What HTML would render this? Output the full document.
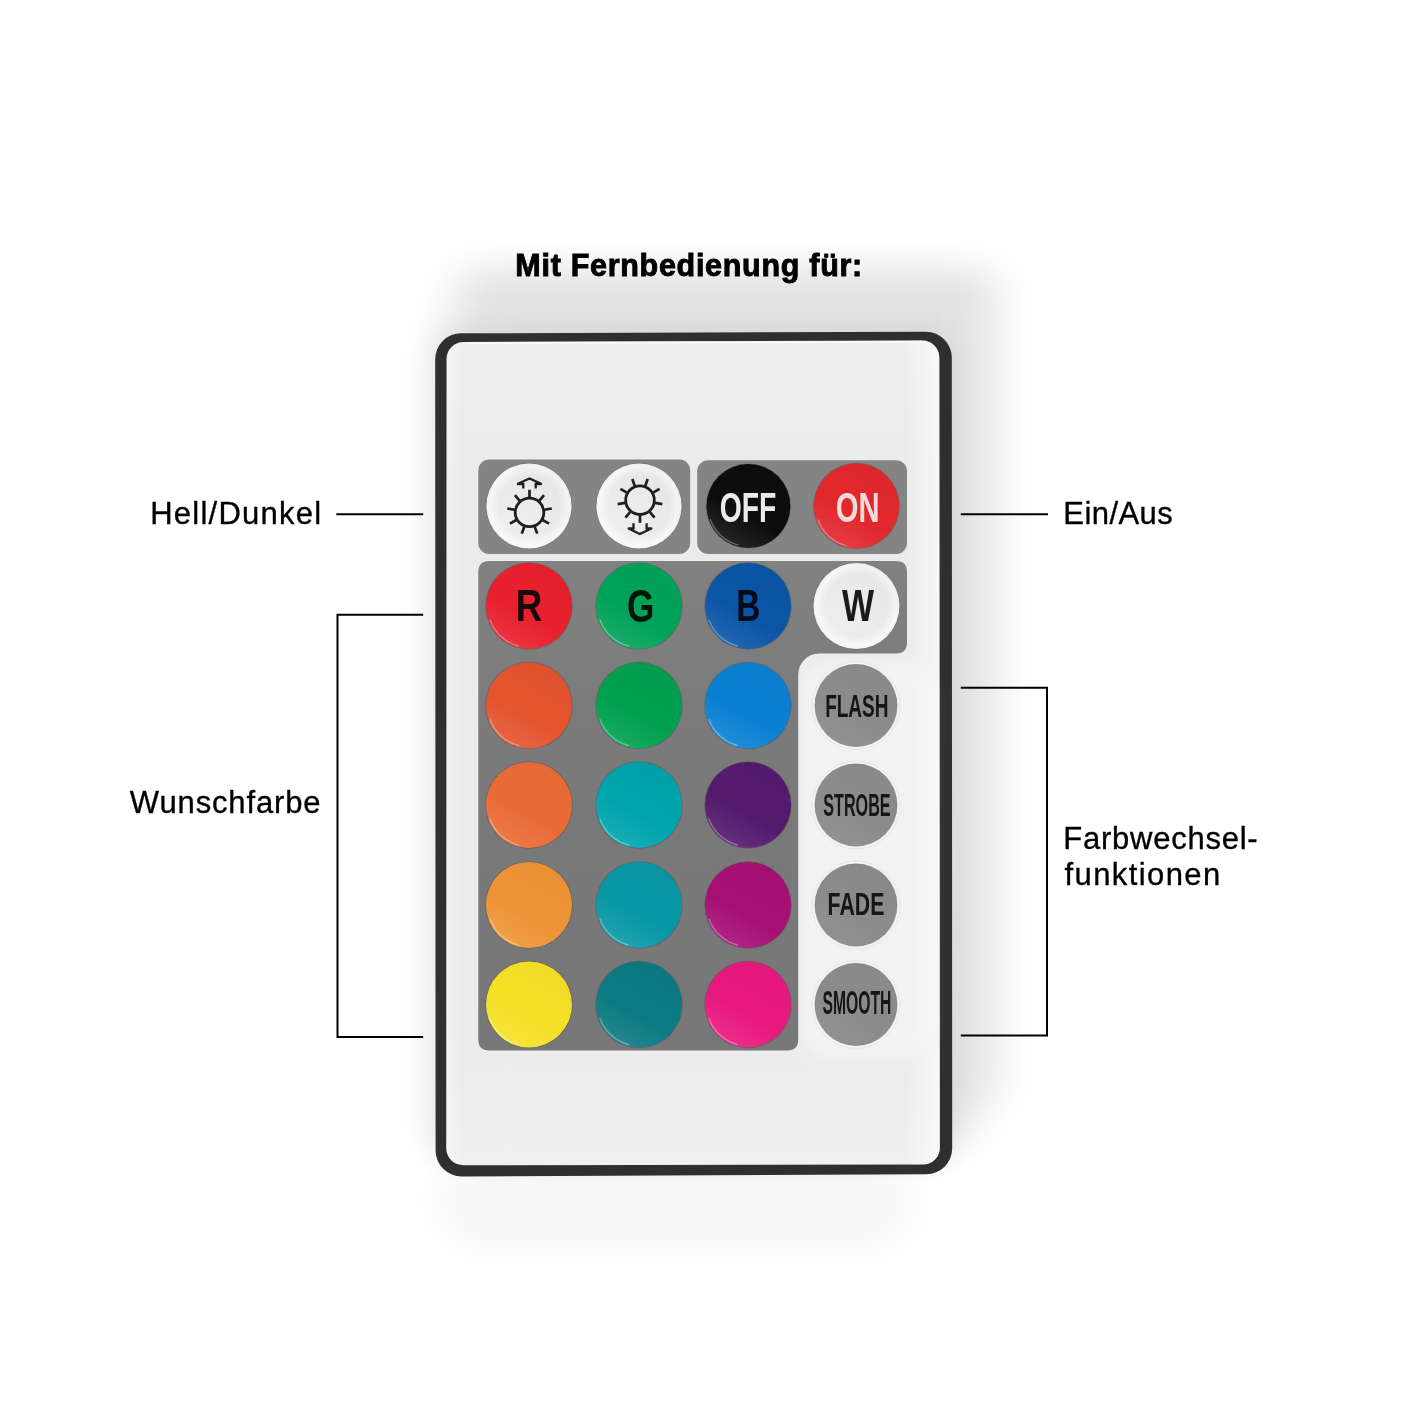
<!DOCTYPE html>
<html><head><meta charset="utf-8"><title>Fernbedienung</title>
<style>
html,body{margin:0;padding:0;background:#fff;}
body{width:1417px;height:1417px;overflow:hidden;font-family:"Liberation Sans",sans-serif;}
svg{display:block}
text{font-family:"Liberation Sans",sans-serif;}
</style></head><body>
<svg width="1417" height="1417" viewBox="0 0 1417 1417">
<defs>
<filter id="b30" x="-30%" y="-30%" width="160%" height="160%"><feGaussianBlur stdDeviation="24 18"/></filter>
<filter id="b18" x="-30%" y="-30%" width="160%" height="160%"><feGaussianBlur stdDeviation="13"/></filter>
<filter id="b8" x="-30%" y="-30%" width="160%" height="160%"><feGaussianBlur stdDeviation="7"/></filter>
<filter id="b1"><feGaussianBlur stdDeviation="0.7"/></filter>
<linearGradient id="face" x1="0" y1="0" x2="0" y2="1">
 <stop offset="0" stop-color="#efefef"/><stop offset="0.15" stop-color="#ebebeb"/><stop offset="0.85" stop-color="#ebebeb"/><stop offset="1" stop-color="#f0f0f0"/>
</linearGradient>
<linearGradient id="gloss" x1="0.75" y1="0.05" x2="0.25" y2="0.95">
 <stop offset="0" stop-color="#000" stop-opacity="0.025"/><stop offset="0.45" stop-color="#000" stop-opacity="0"/><stop offset="0.6" stop-color="#fff" stop-opacity="0"/><stop offset="1" stop-color="#fff" stop-opacity="0.10"/>
</linearGradient>
<linearGradient id="glossw" x1="0.8" y1="0.1" x2="0.2" y2="0.9">
 <stop offset="0" stop-color="#000" stop-opacity="0.06"/><stop offset="0.5" stop-color="#000" stop-opacity="0"/><stop offset="0.5" stop-color="#fff" stop-opacity="0"/><stop offset="1" stop-color="#fff" stop-opacity="0.6"/>
</linearGradient>
<radialGradient id="whitebtn" cx="0.5" cy="0.5" r="0.5">
 <stop offset="0" stop-color="#ececec"/><stop offset="0.72" stop-color="#eaeaea"/><stop offset="0.93" stop-color="#f7f7f7"/><stop offset="1" stop-color="#f0f0f0"/>
</radialGradient>
<linearGradient id="edgeR" x1="0" y1="0" x2="1" y2="0">
 <stop offset="0" stop-color="#fff" stop-opacity="0"/><stop offset="1" stop-color="#fff" stop-opacity="0.6"/>
</linearGradient>
<linearGradient id="edgeL" x1="1" y1="0" x2="0" y2="0">
 <stop offset="0" stop-color="#fff" stop-opacity="0"/><stop offset="1" stop-color="#fff" stop-opacity="0.35"/>
</linearGradient>
<clipPath id="faceclip"><path d="M464,342 L922,340.6 A17,17 0 0 1 939.3,358 L939.8,1147 A17,17 0 0 1 922,1164.6 L464,1165.2 A17,17 0 0 1 446.3,1148 L446.6,359.5 A17,17 0 0 1 464,342 Z"/></clipPath>
<linearGradient id="pgrad" gradientUnits="userSpaceOnUse" x1="0" y1="561" x2="0" y2="1050">
 <stop offset="0" stop-color="#818181"/><stop offset="0.35" stop-color="#7a7a7a"/><stop offset="1" stop-color="#777777"/>
</linearGradient>
<linearGradient id="rshadow" x1="0" y1="0" x2="1" y2="0">
 <stop offset="0" stop-color="#d6d6d6"/><stop offset="0.35" stop-color="#e6e6e6"/><stop offset="0.7" stop-color="#f6f6f6"/><stop offset="1" stop-color="#ffffff"/>
</linearGradient>
</defs>
<rect width="1417" height="1417" fill="#ffffff"/>

<g>
<path d="M440,350 L466,268 H970 Q996,268 996,294 V1085 L950,1150 H440 Z" fill="#000" opacity="0.112" filter="url(#b30)"/>
<rect x="428" y="326" width="532" height="840" rx="30" fill="#000" opacity="0.035" filter="url(#b18)"/>
<rect x="440" y="1150" width="470" height="100" rx="40" fill="#000" opacity="0.03" filter="url(#b30)"/>
</g>
<path d="M461,333.3 L926,331.8 A26,26 0 0 1 951.8,358 L952.2,1148 A26,26 0 0 1 926,1174.3 L462,1176.4 A26,26 0 0 1 435.6,1150 L435.2,359.5 A26,26 0 0 1 461,333.3 Z" fill="#2f2f2f"/>
<path d="M464,342 L922,340.6 A17,17 0 0 1 939.3,358 L939.8,1147 A17,17 0 0 1 922,1164.6 L464,1165.2 A17,17 0 0 1 446.3,1148 L446.6,359.5 A17,17 0 0 1 464,342 Z" fill="url(#face)"/>
<g clip-path="url(#faceclip)"><rect x="905" y="340" width="35" height="826" fill="url(#edgeR)"/><rect x="446" y="340" width="16" height="826" fill="url(#edgeL)"/></g>
<path d="M466,343.2 L921,341.8" stroke="#fbfbfb" stroke-width="2" opacity="0.8" fill="none"/>
<rect x="800" y="660" width="132" height="400" rx="30" fill="#fff" opacity="0.35" filter="url(#b8)"/>
<rect x="478.3" y="459.6" width="211.9" height="94.4" rx="11" fill="#848484"/>
<rect x="697.2" y="460.2" width="209.8" height="93.8" rx="11" fill="#848484"/>
<path d="M489.3,561 H896 Q907,561 907,572 V642.5 Q907,653.5 896,653.5 H819.2 A21,21 0 0 0 798.2,674.5 V1039.6 Q798.2,1050.6 787.2,1050.6 H489.3 Q478.3,1050.6 478.3,1039.6 V572 Q478.3,561 489.3,561 Z" fill="url(#pgrad)"/>
<circle cx="529" cy="506" r="43.2" fill="#6a6a6a" opacity="0.55"/>
<circle cx="529" cy="506" r="42.6" fill="url(#whitebtn)"/>
<circle cx="529" cy="506" r="42.6" fill="url(#glossw)" opacity="0.35"/>
<circle cx="639" cy="506" r="43.2" fill="#6a6a6a" opacity="0.55"/>
<circle cx="639" cy="506" r="42.6" fill="url(#whitebtn)"/>
<circle cx="639" cy="506" r="42.6" fill="url(#glossw)" opacity="0.35"/>
<circle cx="748.4" cy="506" r="42.6" fill="#4a4a4a" opacity="0.45"/>
<circle cx="748.4" cy="506" r="41.9" fill="#0d0d0d"/>
<circle cx="748.4" cy="506" r="41.9" fill="url(#gloss)"/>
<path d="M738.0,544.9 A40.3,40.3 0 0 1 710.5,519.8" fill="none" stroke="#fff" stroke-width="1.4" stroke-linecap="round" opacity="0.32" filter="url(#b1)"/>
<circle cx="856.5" cy="506" r="43.300000000000004" fill="#4a4a4a" opacity="0.45"/>
<circle cx="856.5" cy="506" r="42.6" fill="#e1282d"/>
<circle cx="856.5" cy="506" r="42.6" fill="url(#gloss)"/>
<path d="M845.9,545.6 A41.0,41.0 0 0 1 818.0,520.0" fill="none" stroke="#fff" stroke-width="1.4" stroke-linecap="round" opacity="0.32" filter="url(#b1)"/>
<circle cx="529" cy="606" r="43.7" fill="#4a4a4a" opacity="0.45"/>
<circle cx="529" cy="606" r="43" fill="#e8202d"/>
<circle cx="529" cy="606" r="43" fill="url(#gloss)"/>
<path d="M518.3,646.0 A41.4,41.4 0 0 1 490.1,620.2" fill="none" stroke="#fff" stroke-width="1.4" stroke-linecap="round" opacity="0.32" filter="url(#b1)"/>
<circle cx="639" cy="606" r="43.7" fill="#4a4a4a" opacity="0.45"/>
<circle cx="639" cy="606" r="43" fill="#00a258"/>
<circle cx="639" cy="606" r="43" fill="url(#gloss)"/>
<path d="M628.3,646.0 A41.4,41.4 0 0 1 600.1,620.2" fill="none" stroke="#fff" stroke-width="1.4" stroke-linecap="round" opacity="0.32" filter="url(#b1)"/>
<circle cx="748" cy="606" r="43.7" fill="#4a4a4a" opacity="0.45"/>
<circle cx="748" cy="606" r="43" fill="#0b55a6"/>
<circle cx="748" cy="606" r="43" fill="url(#gloss)"/>
<path d="M737.3,646.0 A41.4,41.4 0 0 1 709.1,620.2" fill="none" stroke="#fff" stroke-width="1.4" stroke-linecap="round" opacity="0.32" filter="url(#b1)"/>
<circle cx="856.5" cy="606" r="43.6" fill="#6a6a6a" opacity="0.55"/>
<circle cx="856.5" cy="606" r="43" fill="url(#whitebtn)"/>
<circle cx="856.5" cy="606" r="43" fill="url(#glossw)" opacity="0.35"/>
<circle cx="529" cy="705.5" r="43.7" fill="#4a4a4a" opacity="0.45"/>
<circle cx="529" cy="705.5" r="43" fill="#e4542f"/>
<circle cx="529" cy="705.5" r="43" fill="url(#gloss)"/>
<path d="M518.3,745.5 A41.4,41.4 0 0 1 490.1,719.7" fill="none" stroke="#fff" stroke-width="1.4" stroke-linecap="round" opacity="0.32" filter="url(#b1)"/>
<circle cx="639" cy="705.5" r="43.7" fill="#4a4a4a" opacity="0.45"/>
<circle cx="639" cy="705.5" r="43" fill="#00a04f"/>
<circle cx="639" cy="705.5" r="43" fill="url(#gloss)"/>
<path d="M628.3,745.5 A41.4,41.4 0 0 1 600.1,719.7" fill="none" stroke="#fff" stroke-width="1.4" stroke-linecap="round" opacity="0.32" filter="url(#b1)"/>
<circle cx="748" cy="705.5" r="43.7" fill="#4a4a4a" opacity="0.45"/>
<circle cx="748" cy="705.5" r="43" fill="#0a80d2"/>
<circle cx="748" cy="705.5" r="43" fill="url(#gloss)"/>
<path d="M737.3,745.5 A41.4,41.4 0 0 1 709.1,719.7" fill="none" stroke="#fff" stroke-width="1.4" stroke-linecap="round" opacity="0.32" filter="url(#b1)"/>
<circle cx="529" cy="805" r="43.7" fill="#4a4a4a" opacity="0.45"/>
<circle cx="529" cy="805" r="43" fill="#e86b36"/>
<circle cx="529" cy="805" r="43" fill="url(#gloss)"/>
<path d="M518.3,845.0 A41.4,41.4 0 0 1 490.1,819.2" fill="none" stroke="#fff" stroke-width="1.4" stroke-linecap="round" opacity="0.32" filter="url(#b1)"/>
<circle cx="639" cy="805" r="43.7" fill="#4a4a4a" opacity="0.45"/>
<circle cx="639" cy="805" r="43" fill="#00a4ad"/>
<circle cx="639" cy="805" r="43" fill="url(#gloss)"/>
<path d="M628.3,845.0 A41.4,41.4 0 0 1 600.1,819.2" fill="none" stroke="#fff" stroke-width="1.4" stroke-linecap="round" opacity="0.32" filter="url(#b1)"/>
<circle cx="748" cy="805" r="43.7" fill="#4a4a4a" opacity="0.45"/>
<circle cx="748" cy="805" r="43" fill="#541a6e"/>
<circle cx="748" cy="805" r="43" fill="url(#gloss)"/>
<path d="M737.3,845.0 A41.4,41.4 0 0 1 709.1,819.2" fill="none" stroke="#fff" stroke-width="1.4" stroke-linecap="round" opacity="0.32" filter="url(#b1)"/>
<circle cx="529" cy="905" r="43.7" fill="#4a4a4a" opacity="0.45"/>
<circle cx="529" cy="905" r="43" fill="#ee9436"/>
<circle cx="529" cy="905" r="43" fill="url(#gloss)"/>
<path d="M518.3,945.0 A41.4,41.4 0 0 1 490.1,919.2" fill="none" stroke="#fff" stroke-width="1.4" stroke-linecap="round" opacity="0.32" filter="url(#b1)"/>
<circle cx="639" cy="905" r="43.7" fill="#4a4a4a" opacity="0.45"/>
<circle cx="639" cy="905" r="43" fill="#0898a5"/>
<circle cx="639" cy="905" r="43" fill="url(#gloss)"/>
<path d="M628.3,945.0 A41.4,41.4 0 0 1 600.1,919.2" fill="none" stroke="#fff" stroke-width="1.4" stroke-linecap="round" opacity="0.32" filter="url(#b1)"/>
<circle cx="748" cy="905" r="43.7" fill="#4a4a4a" opacity="0.45"/>
<circle cx="748" cy="905" r="43" fill="#a60f75"/>
<circle cx="748" cy="905" r="43" fill="url(#gloss)"/>
<path d="M737.3,945.0 A41.4,41.4 0 0 1 709.1,919.2" fill="none" stroke="#fff" stroke-width="1.4" stroke-linecap="round" opacity="0.32" filter="url(#b1)"/>
<circle cx="529" cy="1004.5" r="43.7" fill="#4a4a4a" opacity="0.45"/>
<circle cx="529" cy="1004.5" r="43" fill="#f5e026"/>
<circle cx="529" cy="1004.5" r="43" fill="url(#gloss)"/>
<path d="M518.3,1044.5 A41.4,41.4 0 0 1 490.1,1018.7" fill="none" stroke="#fff" stroke-width="1.4" stroke-linecap="round" opacity="0.32" filter="url(#b1)"/>
<circle cx="639" cy="1004.5" r="43.7" fill="#4a4a4a" opacity="0.45"/>
<circle cx="639" cy="1004.5" r="43" fill="#0b7a82"/>
<circle cx="639" cy="1004.5" r="43" fill="url(#gloss)"/>
<path d="M628.3,1044.5 A41.4,41.4 0 0 1 600.1,1018.7" fill="none" stroke="#fff" stroke-width="1.4" stroke-linecap="round" opacity="0.32" filter="url(#b1)"/>
<circle cx="748" cy="1004.5" r="43.7" fill="#4a4a4a" opacity="0.45"/>
<circle cx="748" cy="1004.5" r="43" fill="#e8187f"/>
<circle cx="748" cy="1004.5" r="43" fill="url(#gloss)"/>
<path d="M737.3,1044.5 A41.4,41.4 0 0 1 709.1,1018.7" fill="none" stroke="#fff" stroke-width="1.4" stroke-linecap="round" opacity="0.32" filter="url(#b1)"/>
<circle cx="856" cy="705.5" r="44.0" fill="#f3f3f3"/>
<circle cx="856" cy="705.5" r="44.0" fill="none" stroke="#e0e0e0" stroke-width="0.7"/>
<circle cx="856" cy="705.5" r="41.4" fill="#8b8b8b"/>
<circle cx="856" cy="705.5" r="41.4" fill="url(#gloss)" opacity="0.6"/>
<circle cx="856" cy="805" r="44.0" fill="#f3f3f3"/>
<circle cx="856" cy="805" r="44.0" fill="none" stroke="#e0e0e0" stroke-width="0.7"/>
<circle cx="856" cy="805" r="41.4" fill="#8b8b8b"/>
<circle cx="856" cy="805" r="41.4" fill="url(#gloss)" opacity="0.6"/>
<circle cx="856" cy="905" r="44.0" fill="#f3f3f3"/>
<circle cx="856" cy="905" r="44.0" fill="none" stroke="#e0e0e0" stroke-width="0.7"/>
<circle cx="856" cy="905" r="41.4" fill="#8b8b8b"/>
<circle cx="856" cy="905" r="41.4" fill="url(#gloss)" opacity="0.6"/>
<circle cx="856" cy="1004.5" r="44.0" fill="#f3f3f3"/>
<circle cx="856" cy="1004.5" r="44.0" fill="none" stroke="#e0e0e0" stroke-width="0.7"/>
<circle cx="856" cy="1004.5" r="41.4" fill="#8b8b8b"/>
<circle cx="856" cy="1004.5" r="41.4" fill="url(#gloss)" opacity="0.6"/>
<circle cx="529.5" cy="512.4" r="14.3" fill="none" stroke="#1e1e1e" stroke-width="2.8"/>
<line x1="529.50" y1="497.20" x2="529.50" y2="489.80" stroke="#1e1e1e" stroke-width="2.7"/>
<line x1="539.27" y1="500.76" x2="544.03" y2="495.09" stroke="#1e1e1e" stroke-width="2.7"/>
<line x1="544.47" y1="509.76" x2="551.76" y2="508.48" stroke="#1e1e1e" stroke-width="2.7"/>
<line x1="542.66" y1="520.00" x2="549.07" y2="523.70" stroke="#1e1e1e" stroke-width="2.7"/>
<line x1="534.70" y1="526.68" x2="537.23" y2="533.64" stroke="#1e1e1e" stroke-width="2.7"/>
<line x1="524.30" y1="526.68" x2="521.77" y2="533.64" stroke="#1e1e1e" stroke-width="2.7"/>
<line x1="516.34" y1="520.00" x2="509.93" y2="523.70" stroke="#1e1e1e" stroke-width="2.7"/>
<line x1="514.53" y1="509.76" x2="507.24" y2="508.48" stroke="#1e1e1e" stroke-width="2.7"/>
<line x1="519.73" y1="500.76" x2="514.97" y2="495.09" stroke="#1e1e1e" stroke-width="2.7"/>
<circle cx="640" cy="500.2" r="14.3" fill="none" stroke="#1e1e1e" stroke-width="2.8"/>
<line x1="640.00" y1="515.40" x2="640.00" y2="522.80" stroke="#1e1e1e" stroke-width="2.7"/>
<line x1="649.77" y1="511.84" x2="654.53" y2="517.51" stroke="#1e1e1e" stroke-width="2.7"/>
<line x1="654.97" y1="502.84" x2="662.26" y2="504.12" stroke="#1e1e1e" stroke-width="2.7"/>
<line x1="653.16" y1="492.60" x2="659.57" y2="488.90" stroke="#1e1e1e" stroke-width="2.7"/>
<line x1="645.20" y1="485.92" x2="647.73" y2="478.96" stroke="#1e1e1e" stroke-width="2.7"/>
<line x1="634.80" y1="485.92" x2="632.27" y2="478.96" stroke="#1e1e1e" stroke-width="2.7"/>
<line x1="626.84" y1="492.60" x2="620.43" y2="488.90" stroke="#1e1e1e" stroke-width="2.7"/>
<line x1="625.03" y1="502.84" x2="617.74" y2="504.12" stroke="#1e1e1e" stroke-width="2.7"/>
<line x1="630.23" y1="511.84" x2="625.47" y2="517.51" stroke="#1e1e1e" stroke-width="2.7"/>
<path d="M523.3,488.6 V484 H517.2 L529.6,478.4 L541.7,484 H535.7 V488.6" fill="none" stroke="#1e1e1e" stroke-width="2.3" stroke-linejoin="miter"/>
<path d="M633.5,523.3 V528.3 H628 L639.8,534 L652,528.3 H646.6 V523.3" fill="none" stroke="#1e1e1e" stroke-width="2.3" stroke-linejoin="miter"/>
<g opacity="0.999">
<text transform="translate(719.74,521.5) scale(0.6601,1)" font-size="42.88" font-weight="bold" fill="#ececec">OFF</text>
<text transform="translate(835.80,522) scale(0.6922,1)" font-size="42.15" font-weight="bold" fill="#f3dcdc">ON</text>
<text transform="translate(515.74,621.4) scale(0.8253,1)" font-size="44.48" font-weight="bold" fill="#1a0a0a">R</text>
<text transform="translate(627.05,621.9) scale(0.7679,1)" font-size="45.93" font-weight="bold" fill="#06140c">G</text>
<text transform="translate(736.37,621.4) scale(0.7484,1)" font-size="44.48" font-weight="bold" fill="#060c18">B</text>
<text transform="translate(841.97,621.4) scale(0.7639,1)" font-size="44.48" font-weight="bold" fill="#1a1a1a">W</text>
<text transform="translate(825.13,716.7) scale(0.5954,1)" font-size="31.98" font-weight="bold" fill="#161616">FLASH</text>
<text transform="translate(823.33,815.5) scale(0.5050,1)" font-size="31.98" font-weight="bold" fill="#161616">STROBE</text>
<text transform="translate(827.58,915) scale(0.6628,1)" font-size="32.12" font-weight="bold" fill="#161616">FADE</text>
<text transform="translate(822.45,1014.3) scale(0.4844,1)" font-size="32.41" font-weight="bold" fill="#161616">SMOOTH</text>
</g>
<g stroke="#000" stroke-width="2" fill="none">
<path d="M336.3,514.2 H423.2"/>
<path d="M423.2,614.8 H337.5 V1036.9 H423.2"/>
<path d="M960.8,514.2 H1048"/>
<path d="M960.8,687.7 H1047 V1035.6 H960.8"/>
</g>
<g opacity="0.999">
<text x="150.26" y="523.8" font-size="31" font-weight="normal" fill="#000" stroke="#000" stroke-width="0.35" letter-spacing="1.230">Hell/Dunkel</text>
<text x="129.86" y="812.6" font-size="31" font-weight="normal" fill="#000" stroke="#000" stroke-width="0.35" letter-spacing="0.867">Wunschfarbe</text>
<text x="1063.26" y="523.8" font-size="31" font-weight="normal" fill="#000" stroke="#000" stroke-width="0.35" letter-spacing="0.455">Ein/Aus</text>
<text x="1063.26" y="848.6" font-size="31" font-weight="normal" fill="#000" stroke="#000" stroke-width="0.35" letter-spacing="0.760">Farbwechsel-</text>
<text x="1064.56" y="884.7" font-size="31" font-weight="normal" fill="#000" stroke="#000" stroke-width="0.35" letter-spacing="1.399">funktionen</text>
<text x="515.36" y="275.6" font-size="30.5" font-weight="bold" fill="#000" stroke="#000" stroke-width="0.9" letter-spacing="0.705">Mit Fernbedienung für:</text>
</g>
</svg></body></html>
